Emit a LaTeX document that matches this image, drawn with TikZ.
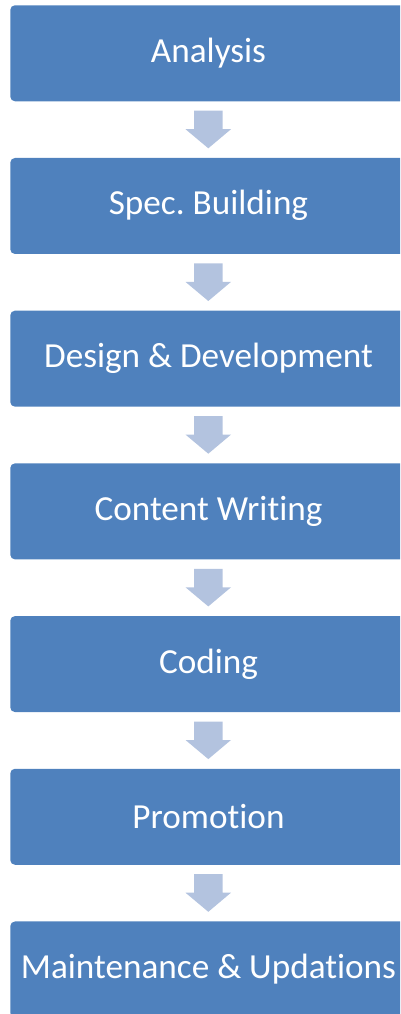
\documentclass[tikz,border=0pt]{standalone}
\usepackage{fontspec}
\setmainfont[Ligatures=NoCommon]{Carlito}
\definecolor{boxblue}{HTML}{4F81BD}
\definecolor{arrowblue}{HTML}{B3C3DF}
\frenchspacing
\begin{document}
\begin{tikzpicture}[x=0.75pt,y=-0.75pt,
  stepbox/.style={fill=boxblue, draw=none, rounded corners=3.5pt, minimum width=298.5pt, minimum height=72pt, anchor=north west, inner sep=0pt},
  lbl/.style={text=white, font=\fontsize{26.4}{30}\selectfont, anchor=center},
  downarrow/.style={fill=arrowblue, draw=none}]
\useasboundingbox (0,0) rectangle (400,1014);
\clip (0,0) rectangle (400,1014);
\foreach \i/\t [count=\k from 0] in {a/Analysis, b/Spec. Building, c/Design \& Development, d/Content Writing, e/Coding, f/Promotion, g/Maintenance \& Updations}{
  \pgfmathsetmacro{\yy}{5+152.7*\k}
  \node[stepbox] (box\i) at (10,\yy) {};
  \node[lbl] (txt\i) at (208.5,\yy+48) {\t};
}
\foreach \k in {0,...,5}{
  \pgfmathsetmacro{\yy}{110.7+152.7*\k}
  \fill[downarrow] (194,\yy) -- (222.5,\yy) -- (222.5,\yy+18.5) -- (231,\yy+18.5) -- (208.3,\yy+37.6) -- (185.5,\yy+18.5) -- (194,\yy+18.5) -- cycle;
}
\end{tikzpicture}
\end{document}
